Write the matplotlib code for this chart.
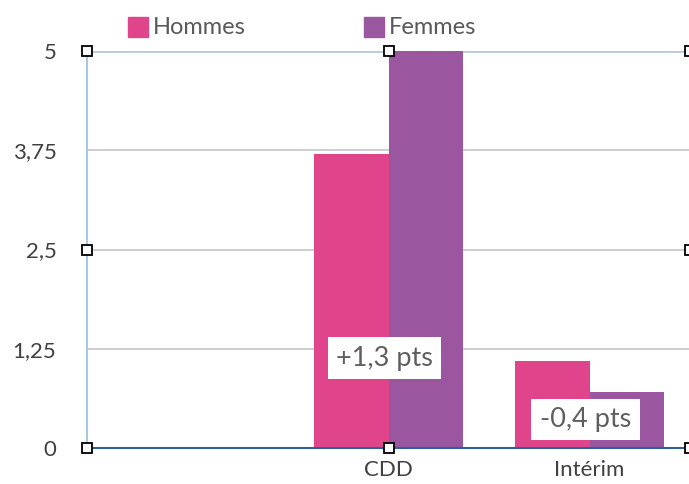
import matplotlib.pyplot as plt
from matplotlib.patches import Rectangle

# donnees
categories = ['', 'CDD', 'Intérim']
hommes = [0, 3.7, 1.1]
femmes = [0, 5.0, 0.7]
ecarts = ['', '+1,3 pts', '-0,4 pts']
ecart_y = [0, 1.13, 0.36]
yticks = [0, 1.25, 2.5, 3.75, 5]
ytick_labels = ['0', '1,25', '2,5', '3,75', '5']
series = ['Hommes', 'Femmes']

rose = '#E0448A'
violet = '#9A579F'
gris_txt = '#404040'

plt.rcParams['font.family'] = ['Lato', 'DejaVu Sans']

W, H = 689, 484
fig = plt.figure(figsize=(W / 100, H / 100), dpi=100)
ax = fig.add_axes([87/W, 1-448/H, 603/W, 397/H])

x = list(range(len(categories)))
w = 0.372
ax.bar([i - w/2 for i in x], hommes, width=w, color=rose, zorder=2)
ax.bar([i + w/2 for i in x], femmes, width=w, color=violet, zorder=2)

ax.set_xlim(-0.5, 2.5)
ax.set_ylim(0, 5)
ax.set_yticks(yticks)
ax.set_yticklabels(ytick_labels, fontsize=16, color=gris_txt)
ax.set_xticks(x)
ax.set_xticklabels(categories, fontsize=16, color=gris_txt)
ax.tick_params(axis='y', length=0, pad=22)
ax.tick_params(axis='x', length=0, pad=9)

# grille
for v in yticks[1:-1]:
    ax.axhline(v, color='#C6C6C6', lw=1.2, zorder=1)
ax.axhline(5, color='#B9C9DA', lw=2, zorder=1)

for s in ['top', 'right']:
    ax.spines[s].set_visible(False)
ax.spines['left'].set_color('#A8C6E6')
ax.spines['left'].set_linewidth(1.5)
ax.spines['bottom'].set_color('#2F5F9E')
ax.spines['bottom'].set_linewidth(1.5)

# etiquettes ecart
for i in x:
    if ecarts[i]:
        ax.text(i - 0.02, ecart_y[i], ecarts[i], ha='center', va='center', fontsize=19.5,
                color='#5f5f5f', zorder=4,
                bbox=dict(facecolor='white', edgecolor='none', pad=6))

# poignees de selection
poignees = [(0, 1), (0.5, 1), (1, 1), (0, 0.5), (1, 0.5), (0, 0), (0.5, 0), (1, 0)]
for px, py in poignees:
    ax.plot(px, py, marker='s', ms=7, mfc='white', mec='black', mew=1.3,
            transform=ax.transAxes, clip_on=False, zorder=5)

# legende
for nom, coul, x0 in zip(series, [rose, violet], [128, 364]):
    fig.patches.append(Rectangle((x0 / W, 1 - 37 / H), 20 / W, 20 / H,
                                 color=coul, transform=fig.transFigure))
    fig.text((x0 + 25) / W, 1 - 27 / H, nom, fontsize=17, color='#595959',
             va='center', ha='left')

fig.savefig('out.png', dpi=100)
